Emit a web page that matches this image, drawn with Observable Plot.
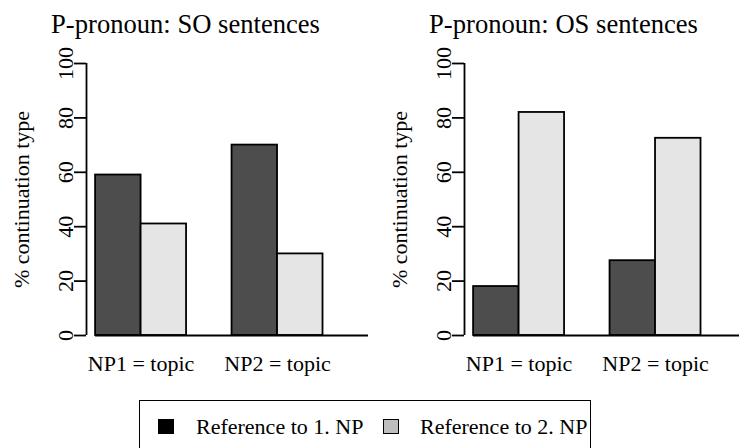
<!DOCTYPE html>
<html>
<head>
<meta charset="utf-8">
<script src="https://cdn.jsdelivr.net/npm/d3@7"></script>
<script src="https://cdn.jsdelivr.net/npm/@observablehq/plot@0.6"></script>
<style>
  html, body { margin: 0; padding: 0; background: #fff; }
  #root { position: relative; width: 739px; height: 448px; overflow: hidden; font-family: "Liberation Serif", "DejaVu Serif", serif; }
  .panel { position: absolute; top: 0; width: 378px; height: 400px; }
  .panel svg { display: block; overflow: visible; }
  #root svg text, #root svg tspan { font-family: "Liberation Serif", "DejaVu Serif", serif !important; }
  #legend { position: absolute; left: 139px; top: 400px; width: 452px; height: 60px; border: 1.8px solid #000; box-sizing: border-box; font-size: 22px; color: #000; }
  .sw { position: absolute; box-sizing: border-box; border: 1.8px solid #000; }
  .lab { position: absolute; white-space: nowrap; line-height: 1; }
</style>
</head>
<body>
<div id="root"></div>
<script>
// ---- data ----
const categories = ["NP1 = topic", "NP2 = topic"];
const seriesNames = ["Reference to 1. NP", "Reference to 2. NP"];
const panelTitles = ["P-pronoun: SO sentences", "P-pronoun: OS sentences"];
const soRef1 = [59, 70];
const soRef2 = [41, 30];
const osRef1 = [18, 27.5];
const osRef2 = [82, 72.5];
const yTicks = [0, 20, 40, 60, 80, 100];
const yLabel = "% continuation type";
const barFills = ["#4d4d4d", "#e5e5e5"];
const legendFills = ["#000000", "#bebebe"];

// R-style barplot layout: space before each group = 1 bar width
const groupSpace = 1;
const xlim = [0.8, 7];
const font = "'Liberation Serif', 'DejaVu Serif', serif";
const lw = 1.8;

function buildBars(seriesValues) {
  const rows = [];
  let pos = 0;
  categories.forEach((cat, g) => {
    pos += groupSpace;
    seriesNames.forEach((s, i) => {
      rows.push({category: cat, series: s, x1: pos, x2: pos + 1, value: seriesValues[i][g]});
      pos += 1;
    });
  });
  return rows;
}

function panel(title, seriesValues) {
  const bars = buildBars(seriesValues);
  const centers = categories.map(c => {
    const b = bars.filter(d => d.category === c);
    return {category: c, x: (d3.min(b, d => d.x1) + d3.max(b, d => d.x2)) / 2};
  });
  const txt = {fontFamily: font, fill: "#000"};
  return Plot.plot({
    width: 378,
    height: 400,
    marginLeft: 86,
    marginRight: 10,
    marginTop: 63,
    marginBottom: 65,
    x: {domain: xlim, axis: null},
    y: {domain: [yTicks[0], yTicks[yTicks.length - 1]], axis: null},
    color: {domain: seriesNames, range: barFills},
    style: {fontFamily: font, background: "transparent", overflow: "visible"},
    marks: [
      Plot.rectY(bars, {x1: "x1", x2: "x2", y1: 0, y2: "value", fill: "series", stroke: "#000", strokeWidth: lw}),
      Plot.ruleY([0], {x1: d3.min(bars, d => d.x1), x2: xlim[1], stroke: "#000", strokeWidth: lw}),
      Plot.ruleX([xlim[0]], {y1: yTicks[0], y2: yTicks[yTicks.length - 1], stroke: "#000", strokeWidth: lw}),
      Plot.axisY({ticks: yTicks, tickSize: 12, tickFormat: () => "", label: null, strokeWidth: lw, stroke: "#000"}),
      Plot.text(yTicks, {y: d => d, text: d => String(d), frameAnchor: "left", dx: -14, rotate: -90, textAnchor: "middle", lineAnchor: "bottom", fontSize: 22, ...txt}),
      Plot.text([yLabel], {text: d => d, frameAnchor: "left", dx: -58, rotate: -90, textAnchor: "middle", lineAnchor: "bottom", fontSize: 22, ...txt}),
      Plot.text(centers, {x: "x", text: "category", frameAnchor: "bottom", dy: 35, textAnchor: "middle", lineAnchor: "bottom", fontSize: 22, ...txt}),
      Plot.text([title], {text: d => d, frameAnchor: "top-left", dx: 99, dy: -31, textAnchor: "middle", lineAnchor: "bottom", fontSize: 26.6, ...txt})
    ]
  });
}

const root = document.getElementById("root");
[[panelTitles[0], [soRef1, soRef2]], [panelTitles[1], [osRef1, osRef2]]].forEach(([t, v], i) => {
  const div = document.createElement("div");
  div.className = "panel";
  div.style.left = (i * 378) + "px";
  div.appendChild(panel(t, v));
  root.appendChild(div);
});

// legend
const legend = document.createElement("div");
legend.id = "legend";
const swatchLeft = [18, 243];
const labelLeft = [56, 280];
seriesNames.forEach((s, i) => {
  const sw = document.createElement("div");
  sw.className = "sw";
  sw.style.left = swatchLeft[i] + "px";
  sw.style.top = "18px";
  sw.style.width = "16px";
  sw.style.height = "15px";
  sw.style.background = legendFills[i];
  legend.appendChild(sw);
  const lab = document.createElement("div");
  lab.className = "lab";
  lab.style.left = labelLeft[i] + "px";
  lab.style.top = "15px";
  lab.textContent = s;
  legend.appendChild(lab);
});
root.appendChild(legend);
</script>
</body>
</html>
